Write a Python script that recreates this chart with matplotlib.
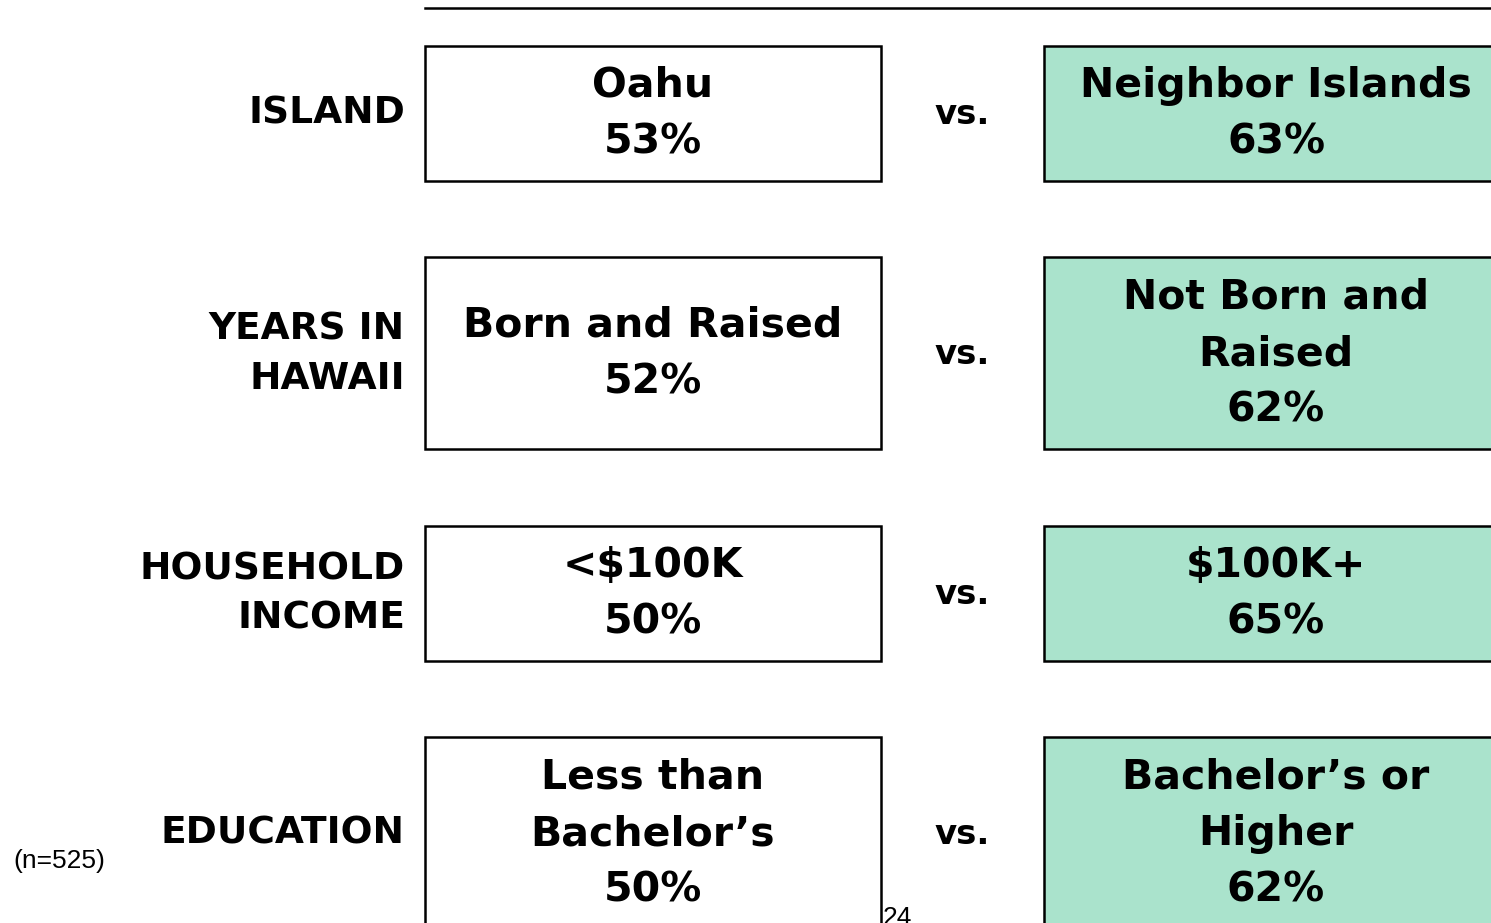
import matplotlib
matplotlib.use('Agg')
import matplotlib.pyplot as plt
from matplotlib.patches import Rectangle

plt.rcParams['font.family'] = ['DejaVu Sans']

# data
categories = ['ISLAND', 'YEARS IN\nHAWAII', 'HOUSEHOLD\nINCOME', 'EDUCATION']
left_groups = ['Oahu', 'Born and Raised', '<$100K', 'Less than\nBachelor\u2019s']
left_pct = [53, 52, 50, 50]
right_groups = ['Neighbor Islands', 'Not Born and\nRaised', '$100K+', 'Bachelor\u2019s or\nHigher']
right_pct = [63, 62, 65, 62]
base_note = '(n=525)'
page_no = '24'

W, H = 1491, 923
green = '#aae3cc'

fig = plt.figure(figsize=(W / 100, H / 100), dpi=100)
ax = fig.add_axes([0, 0, 1, 1])
ax.set_xlim(0, W)
ax.set_ylim(H, 0)
ax.axis('off')

# rule at top
ax.plot([425, W], [8, 8], color='black', lw=1.8)

row_y0 = 113
row_step = 240
line_h = 57

for i, cat in enumerate(categories):
    yc = row_y0 + i * row_step
    ltxt = f'{left_groups[i]}\n{left_pct[i]}%'
    rtxt = f'{right_groups[i]}\n{right_pct[i]}%'
    nl = max(ltxt.count('\n'), rtxt.count('\n')) + 1
    bh = nl * line_h + 21

    ax.add_patch(Rectangle((425, yc - bh / 2), 456, bh, facecolor='white',
                           edgecolor='black', lw=1.8))
    ax.add_patch(Rectangle((1044, yc - bh / 2), 480, bh, facecolor=green,
                           edgecolor='black', lw=1.8))

    ax.text(653, yc + 1, ltxt, ha='center', va='center', fontsize=29.5,
            fontweight='bold', linespacing=1.53)
    ax.text(1276, yc + 1, rtxt, ha='center', va='center', fontsize=29.5,
            fontweight='bold', linespacing=1.53)
    ax.text(962, yc + 1, 'vs.', ha='center', va='center', fontsize=24.5,
            fontweight='bold')
    ax.text(405, yc + 1, cat, ha='right', va='center', fontsize=27,
            fontweight='bold', linespacing=1.48)

ax.text(13, 861, base_note, ha='left', va='center', fontsize=19,
        family='Liberation Sans')
ax.text(883, 906, page_no, ha='left', va='top', fontsize=19,
        family='Liberation Sans')

fig.savefig('out.png', dpi=100)
